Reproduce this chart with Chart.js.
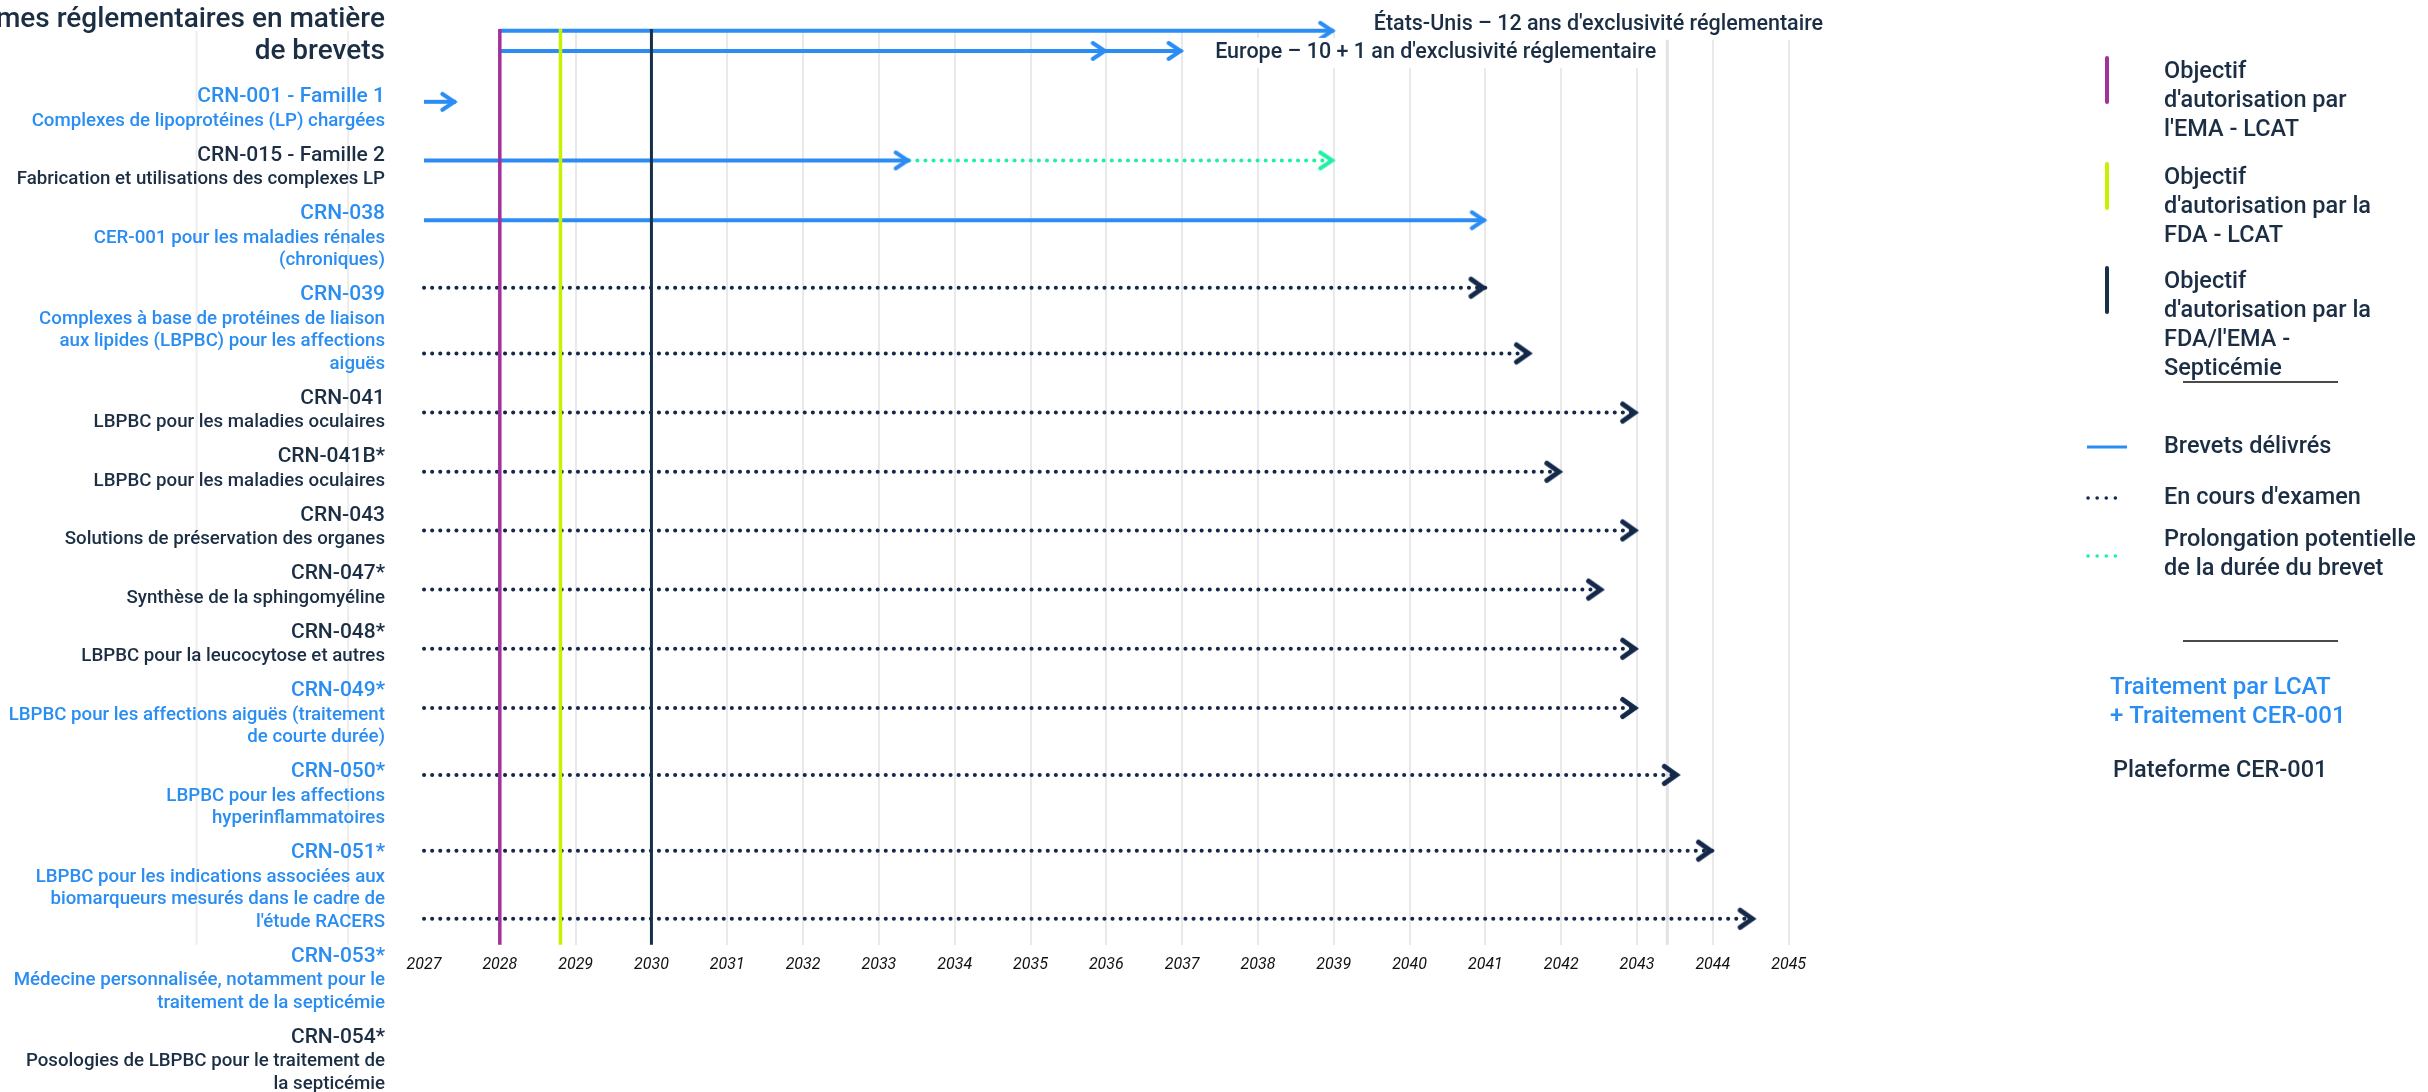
<!DOCTYPE html>
<html lang="fr">
<head>
<meta charset="utf-8">
<title>Brevets et régimes réglementaires</title>
<script src="https://cdn.jsdelivr.net/npm/chart.js@4.4.1/dist/chart.umd.min.js"></script>
<style>
  html, body { margin: 0; padding: 0; background: #ffffff; overflow: hidden; }
  #wrap { width: 2428px; height: 1092px; position: relative; }
</style>
</head>
<body>
<div id="wrap"><canvas id="c" width="2428" height="1092"></canvas></div>
<script>
// ---------------- data ----------------
const yearTicks = [2027, 2028, 2029, 2030, 2031, 2032, 2033, 2034, 2035, 2036,
                   2037, 2038, 2039, 2040, 2041, 2042, 2043, 2044, 2045];

const patentCodes = ['CRN-001 - Famille 1', 'CRN-015 - Famille 2', 'CRN-038', 'CRN-039',
                     'CRN-041', 'CRN-041B*', 'CRN-043', 'CRN-047*', 'CRN-048*', 'CRN-049*',
                     'CRN-050*', 'CRN-051*', 'CRN-053*', 'CRN-054*'];

const patentDescriptions = [
  ['Complexes de lipoprotéines (LP) chargées'],
  ['Fabrication et utilisations des complexes LP'],
  ['CER-001 pour les maladies rénales', '(chroniques)'],
  ['Complexes à base de protéines de liaison', 'aux lipides (LBPBC) pour les affections', 'aiguës'],
  ['LBPBC pour les maladies oculaires'],
  ['LBPBC pour les maladies oculaires'],
  ['Solutions de préservation des organes'],
  ['Synthèse de la sphingomyéline'],
  ['LBPBC pour la leucocytose et autres'],
  ['LBPBC pour les affections aiguës (traitement', 'de courte durée)'],
  ['LBPBC pour les affections', 'hyperinflammatoires'],
  ['LBPBC pour les indications associées aux', 'biomarqueurs mesurés dans le cadre de', "l'étude RACERS"],
  ['Médecine personnalisée, notamment pour le', 'traitement de la septicémie'],
  ['Posologies de LBPBC pour le traitement de', 'la septicémie']
];

// 'lcat' = Traitement par LCAT + Traitement CER-001, 'cer' = Plateforme CER-001
const patentPlatform = ['lcat', 'cer', 'lcat', 'lcat', 'cer', 'cer', 'cer', 'cer', 'cer',
                        'lcat', 'lcat', 'lcat', 'lcat', 'cer'];

// 'granted' = Brevets délivrés, 'pending' = En cours d'examen
const patentStatus = ['granted', 'granted', 'granted', 'pending', 'pending', 'pending', 'pending',
                      'pending', 'pending', 'pending', 'pending', 'pending', 'pending', 'pending'];

const patentStart = [2027, 2027, 2027, 2027, 2027, 2027, 2027, 2027, 2027, 2027, 2027, 2027, 2027, 2027];
const patentEnd = [2027.42, 2033.4, 2041, 2041, 2041.6, 2043, 2042, 2043, 2042.55, 2043,
                   2043, 2043.55, 2044, 2044.55];
// potential term extension (null when none)
const patentExtensionEnd = [null, 2039, null, null, null, null, null, null, null, null, null, null, null, null];

const exclusivityUS = [2028, 2039];
const exclusivityEU = [2028, 2036, 2037];
const exclusivityLabels = ["États-Unis – 12 ans d'exclusivité réglementaire",
                           "Europe – 10 + 1 an d'exclusivité réglementaire"];

const milestoneYears = [2028, 2028.8, 2030];
const milestoneLabels = [
  ['Objectif', "d'autorisation par", "l'EMA - LCAT"],
  ['Objectif', "d'autorisation par la", 'FDA - LCAT'],
  ['Objectif', "d'autorisation par la", "FDA/l'EMA -", 'Septicémie']
];

const guideYears = [2024, 2026, 2043.4];

const titleLines = ['mes réglementaires en matière', 'de brevets'];

// ---------------- layout & style ----------------
const BLUE = '#2b8cf4';
const NAVY = '#14294a';
const GREEN = '#1ff0a2';
const TEXT_DARK = '#1b2e44';
const TEXT_BLUE = '#2a8df2';
const MILESTONE_COLORS = ['#a3319b', '#c6f200', '#17304a'];
const FONT = 'Roboto, "Open Sans", sans-serif';

// vertical lanes, in row units from the top of the plot
const laneUS = 0.03, laneEU = 0.37;
const lanePos = [1.23, 2.22, 3.23, 4.37, 5.48, 6.48, 7.48, 8.47, 9.47, 10.47, 11.47, 12.6, 13.88, 15.03];
const Y_MAX = 15.47;

function chevron(color, lw, L, H) {
  const s = 48, c = document.createElement('canvas');
  c.width = s; c.height = s;
  const g = c.getContext('2d');
  const d = (lw / 2) / Math.sin(Math.atan2(H, L));
  const tx = s / 2 - d + 2;
  g.strokeStyle = color; g.lineWidth = lw; g.lineJoin = 'miter'; g.lineCap = 'round';
  g.beginPath();
  g.moveTo(tx - L, s / 2 - H); g.lineTo(tx, s / 2); g.lineTo(tx - L, s / 2 + H);
  g.stroke();
  return c;
}
const headBlue = chevron(BLUE, 4, 12, 8);
const headNavy = chevron(NAVY, 5, 12, 8.5);
const headGreen = chevron(GREEN, 4, 12, 8);

function arrowDataset(xs, lane, color, head, dotted, heads) {
  return {
    data: xs.map(v => ({ x: v, y: lane })),
    borderColor: color,
    borderWidth: 4,
    borderDash: dotted ? [0.1, 8] : [],
    borderCapStyle: dotted ? 'round' : 'butt',
    pointStyle: head,
    pointRadius: xs.map((_, i) => heads.includes(i) ? 10 : 0),
    pointBorderWidth: 0,
    fill: false,
    tension: 0,
    clip: false
  };
}

const datasets = [];
// milestone lines first so they sit on top of the arrows
milestoneYears.forEach((m, i) => {
  datasets.push({
    data: [{ x: m, y: 0 }, { x: m, y: Y_MAX }],
    borderColor: MILESTONE_COLORS[i],
    borderWidth: i === 2 ? 3 : 3.5,
    pointRadius: 0,
    fill: false,
    clip: false
  });
});
datasets.push(arrowDataset(exclusivityUS, laneUS, BLUE, headBlue, false, [1]));
datasets.push(arrowDataset(exclusivityEU, laneEU, BLUE, headBlue, false, [1, 2]));
patentCodes.forEach((_, i) => {
  const granted = patentStatus[i] === 'granted';
  datasets.push(arrowDataset([patentStart[i], patentEnd[i]], lanePos[i],
    granted ? BLUE : NAVY, granted ? headBlue : headNavy, !granted, [1]));
  if (patentExtensionEnd[i] !== null) {
    datasets.push(arrowDataset([patentEnd[i], patentExtensionEnd[i]], lanePos[i],
      GREEN, headGreen, true, [1]));
  }
});

// faint guide lines drawn behind everything
const guidePlugin = {
  id: 'guides',
  beforeDatasetsDraw(chart) {
    const { ctx, chartArea, scales } = chart;
    ctx.save();
    guideYears.forEach((v, i) => {
      const x = scales.x.getPixelForValue(v);
      ctx.strokeStyle = i === 2 ? '#e2e2e2' : '#ececec';
      ctx.lineWidth = i === 2 ? 3 : 2;
      ctx.beginPath();
      ctx.moveTo(x, chartArea.top + 2);
      ctx.lineTo(x, chartArea.bottom);
      ctx.stroke();
    });
    ctx.restore();
  }
};

function lineSeg(ctx, x0, y0, x1, y1, color, w, dash, cap) {
  ctx.save();
  ctx.strokeStyle = color; ctx.lineWidth = w; ctx.lineCap = cap || 'butt';
  ctx.setLineDash(dash || []);
  ctx.beginPath(); ctx.moveTo(x0, y0); ctx.lineTo(x1, y1); ctx.stroke();
  ctx.restore();
}

const textPlugin = {
  id: 'texts',
  afterDatasetsDraw(chart) {
    const { ctx, scales } = chart;
    ctx.save();
    ctx.textBaseline = 'middle';

    // exclusivity annotations with white backing
    ctx.font = `500 21.5px ${FONT}`;
    ctx.textAlign = 'left';
    const ann = [
      { text: exclusivityLabels[0], x: scales.x.getPixelForValue(exclusivityUS[1]) + 40, y: scales.y.getPixelForValue(laneUS) - 6 },
      { text: exclusivityLabels[1], x: scales.x.getPixelForValue(exclusivityEU[2]) + 33, y: scales.y.getPixelForValue(laneEU) + 2 }
    ];
    ann.forEach(a => {
      const w = ctx.measureText(a.text).width;
      ctx.fillStyle = '#ffffff';
      ctx.fillRect(a.x - 8, a.y - 15, w + 16, 30);
      ctx.fillStyle = TEXT_DARK;
      ctx.fillText(a.text, a.x, a.y);
    });
    ctx.restore();
  },
  afterDraw(chart) {
    const { ctx } = chart;
    ctx.save();
    ctx.textBaseline = 'middle';

    // title
    ctx.textAlign = 'right';
    ctx.fillStyle = TEXT_DARK;
    ctx.font = `500 28px ${FONT}`;
    titleLines.forEach((t, i) => ctx.fillText(t, 385, 20 + i * 32));

    // patent labels
    let y = 97;
    patentCodes.forEach((code, i) => {
      const color = patentPlatform[i] === 'lcat' ? TEXT_BLUE : TEXT_DARK;
      ctx.fillStyle = color;
      ctx.font = `500 21px ${FONT}`;
      ctx.fillText(code, 385, y);
      ctx.font = `500 18.7px ${FONT}`;
      const desc = patentDescriptions[i];
      desc.forEach((d, k) => ctx.fillText(d, 385, y + 24 + k * 22.5));
      y += 58.5 + 22.5 * (desc.length - 1);
    });

    // legend
    ctx.textAlign = 'left';
    const tx = 2164;
    ctx.font = `500 23.5px ${FONT}`;
    const mTop = [58, 164, 268];
    const mText = [72, 178, 282];
    milestoneLabels.forEach((lines, i) => {
      lineSeg(ctx, 2107, mTop[i], 2107, mTop[i] + 44, MILESTONE_COLORS[i], 4, [], 'round');
      ctx.fillStyle = TEXT_DARK;
      lines.forEach((t, k) => ctx.fillText(t, tx, mText[i] + k * 29));
    });
    lineSeg(ctx, 2183, 382, 2338, 382, '#4a4a4a', 2);

    lineSeg(ctx, 2087, 447, 2127, 447, BLUE, 3);
    ctx.fillStyle = TEXT_DARK;
    ctx.fillText('Brevets délivrés', tx, 447);

    lineSeg(ctx, 2088, 498, 2124, 498, NAVY, 3.5, [0.1, 9], 'round');
    ctx.fillText("En cours d'examen", tx, 498);

    lineSeg(ctx, 2088, 556, 2124, 556, GREEN, 3.5, [0.1, 9], 'round');
    ctx.fillText('Prolongation potentielle', tx, 540);
    ctx.fillText('de la durée du brevet', tx, 569);

    lineSeg(ctx, 2183, 641, 2338, 641, '#4a4a4a', 2);

    ctx.font = `500 24px ${FONT}`;
    ctx.fillStyle = TEXT_BLUE;
    ctx.fillText('Traitement par LCAT', 2110, 688);
    ctx.fillText('+ Traitement CER-001', 2110, 717);
    ctx.font = `500 23.5px ${FONT}`;
    ctx.fillStyle = TEXT_DARK;
    ctx.fillText('Plateforme CER-001', 2113, 771);

    ctx.restore();
  }
};

new Chart(document.getElementById('c'), {
  type: 'line',
  data: { datasets },
  plugins: [guidePlugin, textPlugin],
  options: {
    responsive: false,
    animation: false,
    events: [],
    layout: { padding: { left: 424, right: 628, top: 29, bottom: 106 } },
    plugins: { legend: { display: false }, tooltip: { enabled: false } },
    scales: {
      x: {
        type: 'linear',
        min: 2027,
        max: 2045.15,
        afterBuildTicks: s => { s.ticks = yearTicks.map(v => ({ value: v })); },
        grid: {
          color: c => (c.tick && c.tick.value === 2027) ? 'rgba(0,0,0,0)' : '#e9e9e9',
          lineWidth: 2,
          drawTicks: false
        },
        border: { display: false },
        ticks: {
          padding: 11,
          color: '#111111',
          autoSkip: false,
          maxRotation: 0,
          font: { family: FONT, size: 16, style: 'italic' },
          callback: v => String(v)
        }
      },
      y: { type: 'linear', reverse: true, min: 0, max: Y_MAX, display: false }
    }
  }
});
</script>
</body>
</html>
